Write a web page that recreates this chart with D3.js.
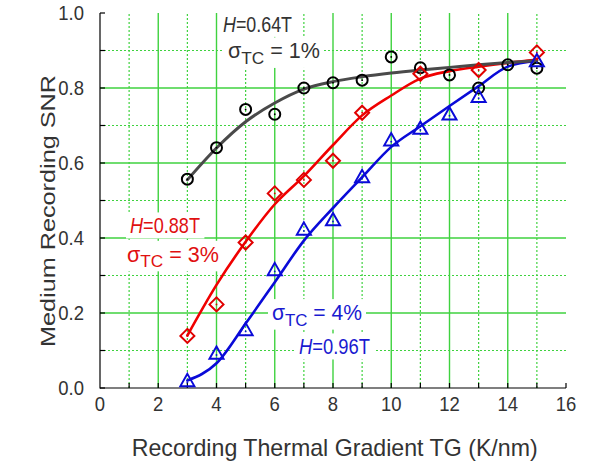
<!DOCTYPE html>
<html><head><meta charset="utf-8">
<script src="https://cdn.jsdelivr.net/npm/d3@7"></script>
<style>body{margin:0;background:#fff}svg{display:block}text{font-family:"Liberation Sans",Arial,sans-serif}</style>
</head><body>
<svg id="c" width="595" height="468"></svg>
<script>
// ---- data ----
const xTicks = [0,2,4,6,8,10,12,14,16];
const yTicks = [0.0,0.2,0.4,0.6,0.8,1.0];
const fitX = [3,4,5,6,7,8,9,10,11,12,13,14,15];
const blackFit = [0.555,0.64,0.71,0.76,0.797,0.817,0.83,0.84,0.848,0.855,0.862,0.868,0.873];
const redFit   = [0.14,0.275,0.39,0.49,0.565,0.648,0.727,0.78,0.825,0.845,0.857,0.867,0.875];
const blueFit  = [0.02,0.066,0.172,0.282,0.393,0.48,0.562,0.643,0.698,0.752,0.805,0.857,0.872];
const blackX = [3,4,5,6,7,8,9,10,11,12,13,14,15];
const blackY = [0.557,0.641,0.743,0.730,0.80,0.814,0.821,0.883,0.854,0.835,0.80,0.862,0.853];
const redX = [3,4,5,6,7,8,9,11,13,15];
const redY = [0.139,0.223,0.388,0.519,0.555,0.606,0.734,0.838,0.848,0.895];
const blueX = [3,4,5,6,7,8,9,10,11,12,13,15];
const blueY = [0.019,0.092,0.155,0.315,0.423,0.448,0.563,0.661,0.692,0.73,0.777,0.872];

const svg = d3.select("#c");
const x = d3.scaleLinear().domain([0,16]).range([100,566]);
const y = d3.scaleLinear().domain([0,1]).range([388,13]);
const green = "#3fd23f";

// grid
const g = svg.append("g");
d3.range(1,16).forEach(v=>{
  const even = v%2===0;
  g.append("line").attr("x1",x(v)).attr("x2",x(v)).attr("y1",y(0)).attr("y2",y(1))
   .attr("stroke",green).attr("stroke-width",even?1.4:1.2).attr("stroke-dasharray",even?null:"2,2");
});
d3.range(1,10).forEach(i=>{
  const v=i/10, even=i%2===0;
  g.append("line").attr("x1",x(0)).attr("x2",x(16)).attr("y1",y(v)).attr("y2",y(v))
   .attr("stroke",green).attr("stroke-width",even?1.4:1.2).attr("stroke-dasharray",even?null:"2,2");
});

// annotations with white backgrounds
const ann = svg.append("g");
function label(xp, yp, parts, color, size, sy, len){
  const grp = ann.append("g");
  const t = grp.append("text").attr("transform",`translate(${xp},${yp}) scale(1,${sy})`)
    .attr("fill",color).attr("font-size",size)
    .attr("textLength",len).attr("lengthAdjust","spacingAndGlyphs");
  parts.forEach(p=>{
    const ts = t.append("tspan").text(p.t);
    if(p.i) ts.attr("font-style","italic");
    if(p.sub) ts.attr("font-size",size*0.8).attr("dy",p.dy);
    if(p.up) ts.attr("dy",p.up);
  });
  const b = grp.node().getBBox();
  grp.insert("rect","text").attr("x",b.x-4).attr("y",b.y-1).attr("width",b.width+8).attr("height",b.height+2).attr("fill","#fff");
  return grp;
}
const sig = (pct)=>[{t:"σ"},{t:"TC",sub:true,dy:5},{t:" = "+pct,up:-5}];
label(223,31.7,[{t:"H",i:true},{t:"=0.64T"}],"#333",19.5,1.1,69);
label(228,58.3,sig("1%"),"#333",19.5,1.1,92);
label(130,233.3,[{t:"H",i:true},{t:"=0.88T"}],"#e01010",19.5,1.1,70);
label(127,261.7,sig("3%"),"#e01010",19.5,1.1,92);
label(272,320,sig("4%"),"#1a1ad0",19.5,1.1,90);
label(299,354.3,[{t:"H",i:true},{t:"=0.96T"}],"#1a1ad0",19.5,1.1,71);

// axes
const ax = svg.append("g").attr("stroke","#000").attr("stroke-width",1.2);
ax.append("line").attr("x1",x(0)).attr("x2",x(0)).attr("y1",y(0)+0.5).attr("y2",y(1));
ax.append("line").attr("x1",x(0)).attr("x2",x(16)).attr("y1",y(0)).attr("y2",y(0));
d3.range(0,11).forEach(i=>ax.append("line").attr("x1",x(0)).attr("x2",x(0)+5).attr("y1",y(i/10)).attr("y2",y(i/10)));
d3.range(1,17).forEach(v=>ax.append("line").attr("x1",x(v)).attr("x2",x(v)).attr("y1",y(0)).attr("y2",y(0)-5));

// tick labels
xTicks.forEach(v=>svg.append("text").attr("transform",`translate(${x(v)},411) scale(1,1.1)`)
  .attr("text-anchor","middle").attr("font-size",18.5).attr("fill","#333").text(v));
yTicks.forEach(v=>svg.append("text").attr("transform",`translate(84,${y(v)+6.5}) scale(1,1.1)`)
  .attr("text-anchor","end").attr("font-size",18.5).attr("fill","#333").text(v.toFixed(1)));

// titles
svg.append("text").attr("x",131.7).attr("y",456).attr("font-size",24).attr("fill","#333")
  .attr("textLength",406).attr("lengthAdjust","spacingAndGlyphs").text("Recording Thermal Gradient TG (K/nm)");
svg.append("text").attr("transform","translate(55,347) rotate(-90)").attr("font-size",20).attr("fill","#333")
  .attr("textLength",272).attr("lengthAdjust","spacingAndGlyphs").text("Medium Recording SNR");

// fit lines
const line = d3.line().x(d=>x(d[0])).y(d=>y(d[1])).curve(d3.curveMonotoneX);
const lines = svg.append("g").attr("fill","none").attr("stroke-linecap","round");
lines.append("path").attr("d",line(fitX.map((v,i)=>[v,blueFit[i]]))).attr("stroke","#0a0ad8").attr("stroke-width",2.6);
lines.append("path").attr("d",line(fitX.map((v,i)=>[v,redFit[i]]))).attr("stroke","#f00000").attr("stroke-width",2.6);
lines.append("path").attr("d",line(fitX.map((v,i)=>[v,blackFit[i]]))).attr("stroke","#4a4a4a").attr("stroke-width",3);

// markers
const mk = svg.append("g").attr("fill","none").attr("stroke-width",2);
blackX.forEach((v,i)=>{
  mk.append("circle").attr("cx",x(v)).attr("cy",y(blackY[i])).attr("r",5.5).attr("stroke","#000");
  mk.append("circle").attr("cx",x(v)).attr("cy",y(blackY[i])).attr("r",0.9).attr("fill","#000").attr("stroke","none");
});
redX.forEach((v,i)=>{
  const cx=x(v), cy=y(redY[i]), s=7;
  mk.append("path").attr("d",`M${cx},${cy-s}L${cx+s},${cy}L${cx},${cy+s}L${cx-s},${cy}Z`).attr("stroke","#e00000");
  mk.append("circle").attr("cx",cx).attr("cy",cy).attr("r",0.9).attr("fill","#e00000").attr("stroke","none");
});
blueX.forEach((v,i)=>{
  const cx=x(v), cy=y(blueY[i]), s=7;
  mk.append("path").attr("d",`M${cx},${cy-s}L${cx+s},${cy+s*0.75}L${cx-s},${cy+s*0.75}Z`).attr("stroke","#0a0ad8");
  mk.append("circle").attr("cx",cx).attr("cy",cy+1.5).attr("r",0.9).attr("fill","#0a0ad8").attr("stroke","none");
});
</script>
</body></html>
